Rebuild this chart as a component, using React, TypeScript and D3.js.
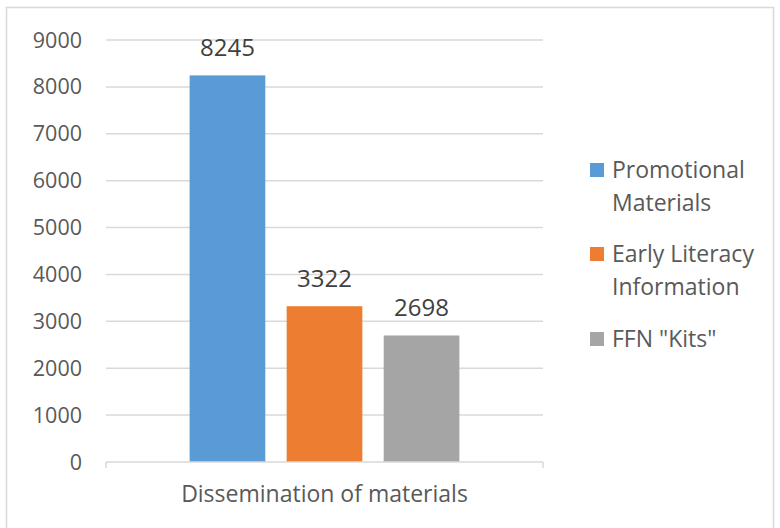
import React from "react";
import * as d3 from "d3";

const categories = ["Dissemination of materials"];
const seriesNames = ["Promotional Materials", "Early Literacy Information", 'FFN "Kits"'];
const seriesLines = [["Promotional", "Materials"], ["Early Literacy", "Information"], ['FFN "Kits"']];
const values = [8245, 3322, 2698];
const colors = ["#5B9BD5", "#ED7D31", "#A5A5A5"];
const yTicks = [0, 1000, 2000, 3000, 4000, 5000, 6000, 7000, 8000, 9000];

const W = 780;
const H = 528;
const FONT = "'Open Sans', 'Segoe UI', sans-serif";

export default function App() {
  const plotLeft = 106;
  const plotRight = 543;
  const y = d3.scaleLinear().domain([0, 9000]).range([462, 40]);
  const x0 = d3.scaleBand().domain(categories).range([plotLeft, plotRight]).paddingInner(0).paddingOuter(0.31);
  const x1 = d3.scaleBand().domain(seriesNames).range([0, x0.bandwidth()]).paddingInner(0.22);

  const legendY = [170, 254, 339];

  return (
    <svg width={W} height={H} style={{ position: "absolute", left: 0, top: 0, background: "#fff" }} fontFamily={FONT}>
      <rect x={6.5} y={7.5} width={767} height={530} fill="#fff" stroke="#D9D9D9" strokeWidth={1.5} />
      {yTicks.map((t) => (
        <g key={t}>
          {t !== 0 && <line x1={plotLeft} x2={plotRight} y1={y(t)} y2={y(t)} stroke="#D9D9D9" strokeWidth={1.5} />}
          <text x={82} y={y(t)} dy="0.35em" textAnchor="end" fontSize={21.5} fill="#595959">
            {t}
          </text>
        </g>
      ))}
      {categories.map((c) => (
        <g key={c} transform={`translate(${x0(c)},0)`}>
          {values.map((v, i) => (
            <g key={seriesNames[i]}>
              <rect x={x1(seriesNames[i])} y={y(v)} width={x1.bandwidth()} height={y(0) - y(v)} fill={colors[i]} />
              <text
                x={(x1(seriesNames[i]) as number) + x1.bandwidth() / 2}
                y={y(v) - 28}
                dy="0.35em"
                textAnchor="middle"
                fontSize={24}
                fill="#404040"
              >
                {v}
              </text>
            </g>
          ))}
        </g>
      ))}
      <line x1={plotLeft} x2={plotRight} y1={y(0)} y2={y(0)} stroke="#D9D9D9" strokeWidth={1.5} />
      <line x1={plotLeft} x2={plotLeft} y1={y(0)} y2={y(0) + 6} stroke="#D9D9D9" strokeWidth={1.5} />
      <line x1={plotRight} x2={plotRight} y1={y(0)} y2={y(0) + 6} stroke="#D9D9D9" strokeWidth={1.5} />
      {categories.map((c) => (
        <text key={c} x={(x0(c) as number) + x0.bandwidth() / 2} y={494} dy="0.35em" textAnchor="middle" fontSize={23} fill="#595959">
          {c}
        </text>
      ))}
      {seriesLines.map((lines, i) => (
        <g key={i}>
          <rect x={590} y={legendY[i] - 7} width={14} height={14} fill={colors[i]} />
          {lines.map((ln, j) => (
            <text key={j} x={612} y={legendY[i] + j * 33} dy="0.35em" fontSize={23} fill="#595959">
              {ln}
            </text>
          ))}
        </g>
      ))}
    </svg>
  );
}
